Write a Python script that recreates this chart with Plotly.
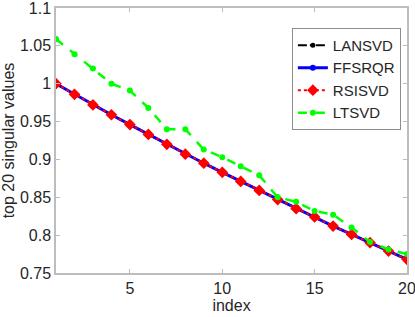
import plotly.graph_objects as go

index = list(range(1, 21))
lansvd = [1.000, 0.986, 0.972, 0.959, 0.946, 0.933, 0.920, 0.907, 0.895, 0.883,
          0.871, 0.859, 0.847, 0.835, 0.824, 0.812, 0.801, 0.790, 0.779, 0.768]
ffsrqr = [1.000, 0.986, 0.972, 0.959, 0.946, 0.933, 0.920, 0.907, 0.895, 0.883,
          0.871, 0.859, 0.847, 0.835, 0.824, 0.812, 0.801, 0.790, 0.779, 0.768]
rsisvd = [1.000, 0.986, 0.972, 0.959, 0.946, 0.933, 0.920, 0.907, 0.895, 0.883,
          0.871, 0.859, 0.847, 0.835, 0.824, 0.812, 0.801, 0.790, 0.779, 0.768]
ltsvd = [1.059, 1.039, 1.020, 1.000, 0.991, 0.968, 0.940, 0.940, 0.913, 0.903,
         0.891, 0.879, 0.850, 0.844, 0.832, 0.827, 0.810, 0.791, 0.781, 0.775]

y_ticks = [0.75, 0.8, 0.85, 0.9, 0.95, 1.0, 1.05, 1.1]
y_tick_text = ["0.75", "0.8", "0.85", "0.9", "0.95", "1", "1.05", "1.1"]
x_ticks = [5, 10, 15, 20]

font = dict(family="Liberation Sans, Arial, sans-serif", size=16, color="#262626")
legend_font = dict(family="Liberation Sans, Arial, sans-serif", size=15, color="#262626")

fig = go.Figure()
fig.add_trace(go.Scatter(x=index, y=lansvd, name="LANSVD", mode="lines+markers",
                         line=dict(color="black", width=2, dash="dashdot"),
                         marker=dict(symbol="circle", size=5, color="black")))
fig.add_trace(go.Scatter(x=index, y=ffsrqr, name="FFSRQR", mode="lines+markers",
                         line=dict(color="#0000ff", width=3),
                         marker=dict(symbol="circle", size=6, color="#0000ff")))
fig.add_trace(go.Scatter(x=index, y=rsisvd, name="RSISVD", mode="lines+markers",
                         line=dict(color="#ff0000", width=2, dash="dot"),
                         marker=dict(symbol="diamond", size=9, color="#ff0000")))
fig.add_trace(go.Scatter(x=index, y=ltsvd, name="LTSVD", mode="lines+markers",
                         line=dict(color="#00ff00", width=2.5, dash="dash"),
                         marker=dict(symbol="circle", size=6, color="#00ff00")))

axis_common = dict(showline=True, linecolor="#bdbdbd", linewidth=1.5, mirror="ticks",
                   ticks="inside", ticklen=4, tickcolor="#bdbdbd", showgrid=False,
                   zeroline=False, tickfont=font, automargin=False,
                   ticklabeloverflow="allow")

fig.update_layout(
    width=415, height=317,
    margin=dict(l=56, r=8, t=8, b=44),
    paper_bgcolor="white", plot_bgcolor="white",
    font=font,
    xaxis=dict(range=[1, 20], tickvals=x_ticks,
               title=dict(text="index", font=font, standoff=2), **axis_common),
    yaxis=dict(range=[0.75, 1.1], tickvals=y_ticks, ticktext=y_tick_text,
               title=dict(text="top 20 singular values", font=font, standoff=4),
               **axis_common),
    legend=dict(x=0.672, y=0.925, xanchor="left", yanchor="top",
                bgcolor="white", bordercolor="#8c8c8c", borderwidth=1,
                font=legend_font, tracegroupgap=0, itemwidth=30),
    showlegend=True,
)

fig.write_html("out.html", config={"displayModeBar": False},
               post_script="document.body.style.margin='0';document.body.style.overflow='hidden';")
